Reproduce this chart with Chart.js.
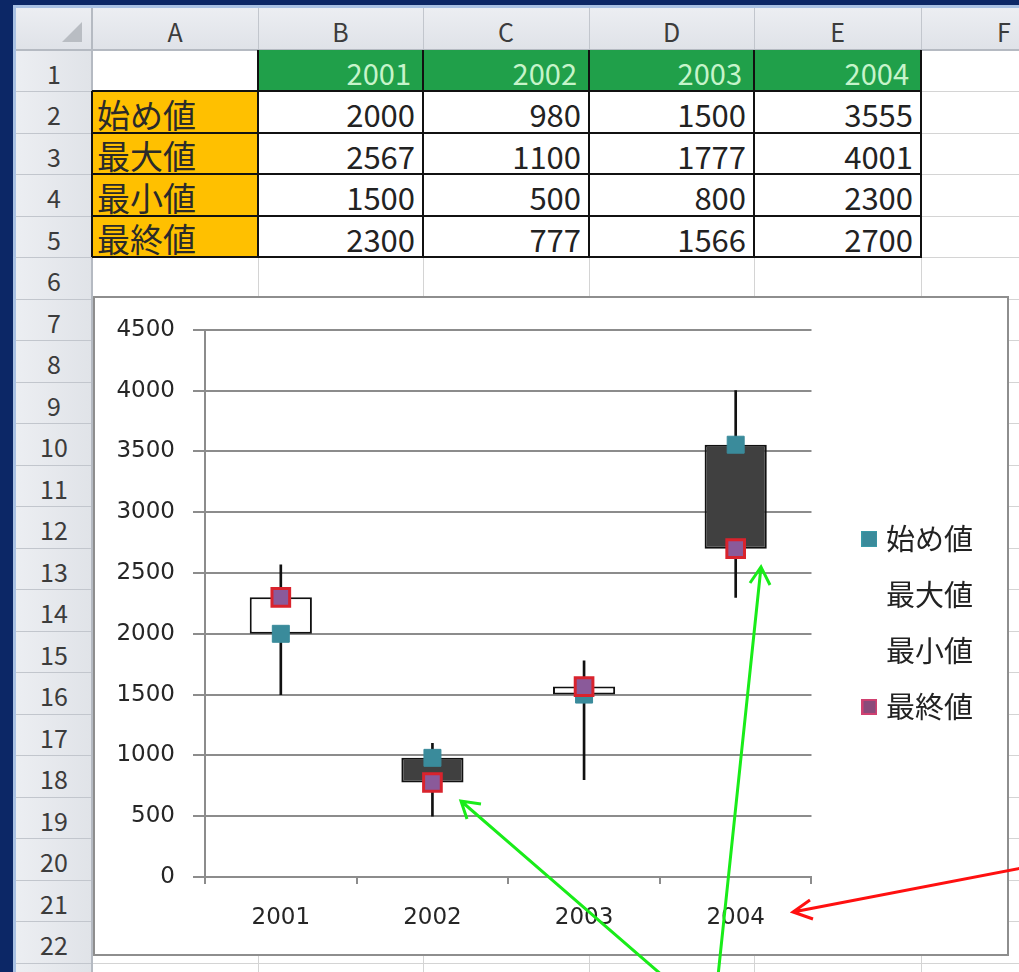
<!DOCTYPE html>
<html>
<head>
<meta charset="utf-8">
<script src="https://cdn.jsdelivr.net/npm/chart.js@4.4.1/dist/chart.umd.min.js"></script>
<style>
html, body { margin: 0; padding: 0 }
body { width: 1019px; height: 972px; overflow: hidden; background: #0c2766; position: relative; font-family: "Noto Sans CJK JP", sans-serif }
#sheet { position: absolute; left: 0; top: 0; width: 1019px; height: 972px }
.c { position: absolute; box-sizing: border-box; white-space: nowrap; overflow: hidden }
.num { display: flex; align-items: center; justify-content: flex-end; padding-right: 8px; padding-top: 4px; font-size: 31px; color: #222 }
.hd { display: flex; align-items: center; justify-content: center; padding-top: 5px; font-size: 25px; color: #3c3c3c }
#chartBox { position: absolute; left: 93px; top: 296px; width: 916px; height: 660px; border: 2px solid #8e8e8e; background: #fff; box-sizing: border-box }
#arrows { position: absolute; left: 0; top: 0 }
</style>
</head>
<body>
<div id="sheet"></div>
<div id="chartBox"><canvas id="stockChart" width="912" height="656"></canvas></div>
<svg id="arrows" width="1019" height="972"></svg>
<script>
const categories = ["2001", "2002", "2003", "2004"]
const seriesNames = ["始め値", "最大値", "最小値", "最終値"]
const opens  = [2000, 980, 1500, 3555]
const highs  = [2567, 1100, 1777, 4001]
const lows   = [1500, 500, 800, 2300]
const closes = [2300, 777, 1566, 2700]
const yMin = 0, yMax = 4500, yStep = 500

const colLetters = ["A", "B", "C", "D", "E", "F"]
const colEdges = [92, 258, 423, 589, 754, 921, 1087]
const rowH = 41.5, row1Top = 49.5, rowCount = 23

function rowTop(r) { return row1Top + (r - 1) * rowH }

const sheet = document.getElementById("sheet")
function box(x, y, w, h, style, text, cls) {
    const d = document.createElement("div")
    d.className = "c" + (cls ? " " + cls : "")
    d.style.cssText = `left:${x}px;top:${y}px;width:${w}px;height:${h}px;` + (style || "")
    if (text != null) d.textContent = text
    sheet.appendChild(d)
    return d
}

// window frame
box(13, 5, 1006, 967, "background:#a9c1e3")
box(16, 8, 1003, 964, "background:#fff")

// headers
box(16, 8, 1003, 41.5, "background:linear-gradient(#eceef2,#dfe2e8)")
box(16, 49.5, 76, 923, "background:linear-gradient(90deg,#eceef2,#e0e3e8)")
box(62, 22, 0, 0, "border-left:20px solid transparent;border-bottom:20px solid #b9bdc3;width:0;height:0")

// grid lines
for (let i = 0; i < colEdges.length; i++) {
    box(colEdges[i], 49.5, 1, 923, "background:#d4d4d4")
    box(colEdges[i], 8, 1, 41.5, "background:#c2c6cd")
}
for (let r = 1; r <= rowCount + 1; r++) {
    box(92, rowTop(r), 927, 1, "background:#d4d4d4")
    box(16, rowTop(r), 76, 1, "background:#c2c6cd")
}
box(16, 49, 1003, 1.5, "background:#b5bac2")
box(91, 8, 1.5, 964, "background:#b5bac2")

// column letters & row numbers
colLetters.forEach((l, i) => box(colEdges[i], 8, colEdges[i + 1] - colEdges[i], 41.5, "", l, "hd"))
for (let r = 1; r <= rowCount; r++) box(16, rowTop(r), 76, rowH, "", String(r), "hd")

// table
categories.forEach((c, i) => {
    const x = colEdges[i + 1], w = colEdges[i + 2] - x
    box(x, rowTop(1), w, rowH, "background:#20a04a;font-size:29px;color:#c6f4ca;padding-right:12px", c, "num")
})
const rows = [opens, highs, lows, closes]
seriesNames.forEach((n, r) => {
    box(colEdges[0], rowTop(r + 2), colEdges[1] - colEdges[0], rowH,
        "background:#ffc000;justify-content:flex-start;padding-left:5px;font-size:33px;color:#2a2a2a", n, "num")
    rows[r].forEach((v, i) => {
        const x = colEdges[i + 1], w = colEdges[i + 2] - x
        box(x, rowTop(r + 2), w, rowH, "", String(v), "num")
    })
})
// black borders
for (let r = 2; r <= 6; r++) box(colEdges[0], rowTop(r) - 1, colEdges[5] - colEdges[0] + 1, 2, "background:#111")
for (let i = 1; i <= 5; i++) box(colEdges[i] - 1, rowTop(1), 2, rowTop(6) - rowTop(1) + 1, "background:#111")
box(colEdges[0] - 1, rowTop(2), 2, rowTop(6) - rowTop(2), "background:#111")

// legend markers as small canvases
function legendSquare(fill, stroke, lw) {
    const c = document.createElement("canvas")
    c.width = 16; c.height = 16
    const g = c.getContext("2d")
    if (fill) { g.fillStyle = fill; g.fillRect(0, 0, 16, 16) }
    if (lw) { g.strokeStyle = stroke; g.lineWidth = lw; g.strokeRect(lw / 2, lw / 2, 16 - lw, 16 - lw) }
    return c
}
const legendMarks = [
    legendSquare("#3a8b9b", "#3a9aa8", 1),
    legendSquare(null),
    legendSquare(null),
    legendSquare("#8a4a7a", "#d04070", 2)
]

// chart
const upColor = "#ffffff", downColor = "#404040"
const ctx = document.getElementById("stockChart").getContext("2d")
new Chart(ctx, {
    data: {
        labels: categories,
        datasets: [
            { type: "line", label: seriesNames[0], data: opens, showLine: false, pointStyle: "rect",
              pointRadius: 12, backgroundColor: "#3a8b9b", borderColor: "#3a8b9b", borderWidth: 1, order: 1 },
            { type: "line", label: seriesNames[1], data: highs, showLine: false, pointRadius: 0,
              backgroundColor: "rgba(0,0,0,0)", borderColor: "rgba(0,0,0,0)", order: 1 },
            { type: "line", label: seriesNames[2], data: lows, showLine: false, pointRadius: 0,
              backgroundColor: "rgba(0,0,0,0)", borderColor: "rgba(0,0,0,0)", order: 1 },
            { type: "line", label: seriesNames[3], data: closes, showLine: false, pointStyle: "rect",
              pointRadius: 12.5, backgroundColor: "#8a5a9a", borderColor: "#d9232d", borderWidth: 3, order: 0 },
            { type: "bar", label: "body", data: opens.map((o, i) => [o, closes[i]]),
              backgroundColor: opens.map((o, i) => closes[i] >= o ? upColor : downColor),
              borderColor: "#111", borderWidth: 2, borderSkipped: false, grouped: false,
              categoryPercentage: 1, barPercentage: 0.41, order: 2 },
            { type: "bar", label: "wick", data: lows.map((l, i) => [l, highs[i]]),
              backgroundColor: "#111", maxBarThickness: 2, grouped: false,
              categoryPercentage: 1, barPercentage: 1, order: 3 }
        ]
    },
    options: {
        responsive: false,
        animation: false,
        layout: { padding: { top: 30, left: 0, right: 24, bottom: 0 } },
        scales: {
            x: {
                type: "category",
                offset: true,
                afterFit: s => { s.height = 77 },
                grid: { offset: true, drawOnChartArea: false, tickLength: 7, color: "#8c8c8c", lineWidth: 2 },
                border: { color: "#8c8c8c", width: 2 },
                ticks: { color: "#262626", padding: 20, font: { family: "DejaVu Sans", size: 23 } }
            },
            y: {
                min: yMin, max: yMax,
                afterFit: s => { s.width = 110 },
                grid: { color: "#8c8c8c", lineWidth: 2, tickLength: 12 },
                border: { color: "#8c8c8c", width: 2 },
                ticks: { stepSize: yStep, color: "#262626", padding: 18, font: { family: "DejaVu Sans", size: 23 },
                         callback: v => String(v) }
            },
            pad: {
                type: "linear", position: "right", display: true,
                afterFit: s => { s.width = 29 },
                grid: { display: false }, border: { display: false }, ticks: { display: false }
            }
        },
        plugins: {
            tooltip: { enabled: false },
            legend: {
                position: "right",
                fullSize: false,
                title: { display: true, text: "", font: { size: 10 }, padding: { top: 27, bottom: 0 } },
                labels: {
                    color: "#222", usePointStyle: true, pointStyleWidth: 4, boxHeight: 16, padding: 27,
                    font: { family: "Noto Sans CJK JP", size: 29 },
                    filter: item => item.datasetIndex < 4,
                    sort: (a, b) => a.datasetIndex - b.datasetIndex,
                    generateLabels: chart => Chart.defaults.plugins.legend.labels.generateLabels(chart).map(it => {
                        if (it.datasetIndex < 4) it.pointStyle = legendMarks[it.datasetIndex]
                        return it
                    })
                }
            }
        }
    }
})

// annotation arrows
const svg = document.getElementById("arrows")
function arrow(color, x1, y1, x2, y2, a1, a2) {
    const ns = "http://www.w3.org/2000/svg"
    const p = document.createElementNS(ns, "path")
    p.setAttribute("d", `M${x1},${y1} L${x2},${y2} M${a1[0]},${a1[1]} L${x2},${y2} L${a2[0]},${a2[1]}`)
    p.setAttribute("stroke", color)
    p.setAttribute("stroke-width", "3")
    p.setAttribute("fill", "none")
    svg.appendChild(p)
}
arrow("#19ec19", 663, 976, 461, 801, [481, 804], [467, 819])
arrow("#19ec19", 718, 976, 761, 567, [750, 583], [770, 585])
arrow("#ff1010", 1022, 868, 793, 912, [810, 900], [813, 919])
</script>
</body>
</html>
